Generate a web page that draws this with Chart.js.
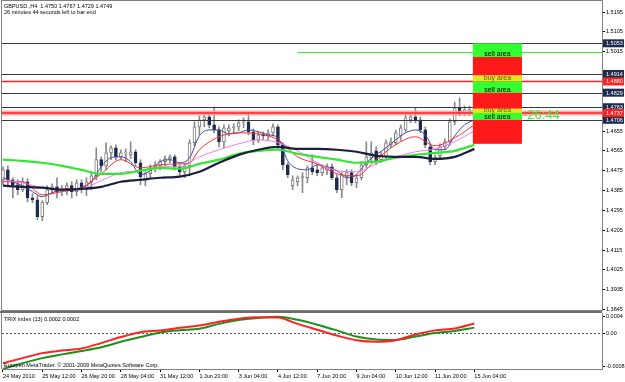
<!DOCTYPE html>
<html>
<head>
<meta charset="utf-8">
<script src="https://cdn.jsdelivr.net/npm/chart.js@4.4.1/dist/chart.umd.min.js"></script>
<style>
    body { margin: 0; background: #fff; width: 625px; height: 382px; overflow: hidden; position: relative; }
    #main { position: absolute; left: 0; top: 0; }
    #trix { position: absolute; left: 0; top: 311px; }
</style>
</head>
<body>
<canvas id="main" width="625" height="311"></canvas>
<canvas id="trix" width="625" height="71"></canvas>
<script>
// GBPUSD H4 candles, 24 May - 15 Jun 2010
const timeLabels = ['24 May 2010', '25 May 12:00', '26 May 20:00', '28 May 04:00', '31 May 12:00', '1 Jun 20:00',
    '3 Jun 04:00', '4 Jun 12:00', '7 Jun 20:00', '9 Jun 04:00', '10 Jun 12:00', '11 Jun 20:00', '15 Jun 04:00'];
const timeLabelBars = [0, 8, 16, 24, 32, 40, 48, 56, 64, 72, 80, 88, 96];

const opens = [1.4434,1.4479,1.4434,1.4411,1.4389,1.4425,1.4352,1.4343,1.4266,1.4330,
    1.4389,1.4402,1.4380,1.4393,1.4407,1.4380,1.4420,1.4389,1.4425,1.4452,
    1.4525,1.4497,1.4556,1.4579,1.4538,1.4556,1.4547,1.4561,1.4511,1.4434,
    1.4461,1.4488,1.4497,1.4516,1.4529,1.4538,1.4493,1.4470,1.4497,1.4602,
    1.4674,1.4706,1.4719,1.4683,1.4660,1.4606,1.4656,1.4670,1.4674,1.4692,
    1.4697,1.4651,1.4615,1.4638,1.4633,1.4647,1.4674,1.4592,1.4502,1.4407,
    1.4425,1.4443,1.4443,1.4488,1.4479,1.4466,1.4479,1.4493,1.4443,1.4389,
    1.4448,1.4466,1.4420,1.4443,1.4502,1.4534,1.4565,1.4525,1.4538,1.4592,
    1.4602,1.4633,1.4660,1.4706,1.4719,1.4706,1.4660,1.4583,1.4516,1.4543,
    1.4583,1.4606,1.4697,1.4760,1.4737,1.4742,1.4750];
const highs = [1.4493,1.4497,1.4443,1.4434,1.4443,1.4439,1.4371,1.4362,1.4339,1.4407,
    1.4416,1.4443,1.4407,1.4420,1.4425,1.4434,1.4434,1.4443,1.4466,1.4579,
    1.4538,1.4602,1.4588,1.4592,1.4570,1.4574,1.4606,1.4570,1.4525,1.4470,
    1.4502,1.4516,1.4525,1.4543,1.4547,1.4547,1.4502,1.4506,1.4615,1.4697,
    1.4724,1.4728,1.4737,1.4765,1.4674,1.4683,1.4683,1.4688,1.4706,1.4715,
    1.4737,1.4665,1.4651,1.4651,1.4660,1.4688,1.4683,1.4602,1.4511,1.4452,
    1.4452,1.4466,1.4497,1.4547,1.4502,1.4502,1.4506,1.4506,1.4457,1.4470,
    1.4479,1.4479,1.4457,1.4516,1.4606,1.4606,1.4583,1.4561,1.4615,1.4624,
    1.4660,1.4683,1.4728,1.4733,1.4760,1.4719,1.4674,1.4597,1.4547,1.4597,
    1.4620,1.4710,1.4787,1.4805,1.4769,1.4769,1.4767];
const lows = [1.4411,1.4402,1.4352,1.4366,1.4380,1.4334,1.4330,1.4253,1.4248,1.4321,
    1.4371,1.4352,1.4362,1.4366,1.4352,1.4362,1.4375,1.4362,1.4389,1.4434,
    1.4470,1.4479,1.4525,1.4525,1.4525,1.4516,1.4529,1.4497,1.4411,1.4407,
    1.4443,1.4470,1.4479,1.4497,1.4511,1.4479,1.4452,1.4443,1.4452,1.4588,
    1.4638,1.4674,1.4670,1.4647,1.4583,1.4579,1.4633,1.4647,1.4656,1.4670,
    1.4638,1.4592,1.4602,1.4615,1.4615,1.4633,1.4570,1.4479,1.4443,1.4389,
    1.4407,1.4375,1.4420,1.4457,1.4452,1.4452,1.4457,1.4434,1.4375,1.4352,
    1.4411,1.4407,1.4398,1.4434,1.4488,1.4516,1.4502,1.4511,1.4525,1.4579,
    1.4592,1.4611,1.4651,1.4692,1.4692,1.4647,1.4579,1.4502,1.4502,1.4529,
    1.4570,1.4592,1.4683,1.4724,1.4724,1.4724,1.4729];
const closes = [1.4479,1.4434,1.4411,1.4389,1.4425,1.4352,1.4343,1.4266,1.4330,1.4389,
    1.4402,1.4380,1.4393,1.4407,1.4380,1.4420,1.4389,1.4425,1.4452,1.4525,
    1.4497,1.4556,1.4579,1.4538,1.4556,1.4561,1.4561,1.4511,1.4448,1.4461,
    1.4488,1.4497,1.4516,1.4529,1.4538,1.4493,1.4470,1.4497,1.4602,1.4674,
    1.4706,1.4719,1.4683,1.4660,1.4606,1.4670,1.4670,1.4674,1.4692,1.4697,
    1.4651,1.4615,1.4638,1.4633,1.4647,1.4674,1.4592,1.4502,1.4457,1.4434,
    1.4443,1.4448,1.4488,1.4470,1.4466,1.4488,1.4493,1.4443,1.4389,1.4457,
    1.4466,1.4420,1.4443,1.4502,1.4538,1.4556,1.4516,1.4547,1.4602,1.4606,
    1.4647,1.4670,1.4715,1.4719,1.4706,1.4660,1.4592,1.4516,1.4534,1.4583,
    1.4606,1.4697,1.4760,1.4737,1.4751,1.4751,1.4749];

const priceTicks = [1.3845, 1.3935, 1.4025, 1.4115, 1.4205, 1.4295, 1.4385, 1.4475, 1.4565, 1.4655, 1.5015, 1.5105, 1.5195];

// moving averages, read at sampled bars
const blueBars = [0,2,4,6,8,10,12,14,16,18,20,22,24,26,28,30,32,34,36,38,40,42,44,46,48,
    50,52,54,56,58,60,62,64,66,68,70,72,74,76,78,80,82,84,86,88,90,92,94,96];
const blueMA = [1.4443,1.4425,1.4407,1.4380,1.4357,1.4375,1.4389,1.4393,1.4398,1.4425,
    1.4493,1.4534,1.4538,1.4516,1.4457,1.4475,1.4516,1.4525,1.4511,1.4534,
    1.4633,1.4660,1.4660,1.4642,1.4647,1.4660,1.4652,1.4638,1.4624,1.4520,
    1.4484,1.4479,1.4502,1.4493,1.4475,1.4443,1.4457,1.4511,1.4547,1.4579,
    1.4615,1.4647,1.4660,1.4638,1.4570,1.4570,1.4633,1.4683,1.4706];
const redBars = [0,4,8,12,16,20,24,28,32,36,38,40,44,48,52,56,60,64,68,72,76,80,84,88,92,96];
const redMA = [1.4425,1.4425,1.4366,1.4380,1.4398,1.4461,1.4525,1.4488,1.4502,1.4506,1.4511,1.4570,1.4629,
    1.4647,1.4642,1.4615,1.4538,1.4506,1.4461,1.4452,1.4525,1.4593,1.4629,1.4588,1.4624,1.4683];
const slowBars = [0,4,8,12,16,20,24,28,32,36,40,44,48,52,56,60,64,68,72,76,80,84,88,92,96];
const violetMA = [1.4434,1.4420,1.4398,1.4389,1.4393,1.4430,1.4466,1.4475,1.4493,1.4493,1.4538,1.4570,1.4597,
    1.4615,1.4602,1.4565,1.4511,1.4475,1.4470,1.4506,1.4538,1.4561,1.4574,1.4607,1.4656];
const greenMA = [1.4525,1.4520,1.4511,1.4497,1.4479,1.4461,1.4461,1.4475,1.4488,1.4484,1.4506,1.4525,1.4552,
    1.4565,1.4570,1.4552,1.4538,1.4525,1.4511,1.4516,1.4534,1.4547,1.4556,1.4565,1.4593];
const blackMA = [1.4407,1.4402,1.4398,1.4389,1.4393,1.4402,1.4425,1.4434,1.4443,1.4448,1.4470,1.4511,1.4547,
    1.4570,1.4583,1.4574,1.4574,1.4570,1.4561,1.4543,1.4538,1.4538,1.4529,1.4538,1.4574];

// TRIX (13) and its signal, same sampled bars
const trixMain = [-0.00071,-0.00059,-0.00047,-0.00041,-0.00036,-0.00023,-0.000086,0.000032,0.000074,0.000135,
    0.00019,0.00028,0.000355,0.00039,0.00038,0.00023,0.00009,-0.00005,-0.00016,-0.000196,
    -0.00016,-0.000025,0.000074,0.00012,0.00024];
const trixSignal = [-0.00085,-0.00071,-0.00059,-0.0005,-0.00042,-0.00033,-0.0002,-0.000086,0.000025,0.000078,
    0.000115,0.00023,0.00032,0.00037,0.0004,0.000326,0.00021,0.000074,-0.000074,-0.000142,
    -0.000154,-0.000074,0.000012,0.00006,0.00014];
const trixTicks = [-0.0008, 0, 0.0004];
const trixTickLabels = ['-0.0008', '0.00', '0.0004'];

// chart objects
const grayLevels = [1.5053, 1.4914, 1.4829, 1.4763, 1.4706];
const redLevels = [1.4880, 1.4737];
const greenLevel = 1.5015;
const greenLevelFromBar = 60;
const zoneTops = [1.5053, 1.4991, 1.4907, 1.4880, 1.4829, 1.4756, 1.4737, 1.4706];
const zoneBottoms = [1.4991, 1.4907, 1.4880, 1.4829, 1.4756, 1.4737, 1.4706, 1.4597];
const zoneKinds = ['sell', 'stop', 'buy', 'sell', 'stop', 'buy', 'sell', 'stop'];

const FONT = '"Liberation Sans", Arial, sans-serif';
const NAVY = '#1c2b4e';
const X_MIN = -0.2;
const X_MAX = 122;
const ZONE_FROM = 95.7;
const ZONE_TO = 105.7;

function pts(bars, values) {
    return bars.map((b, i) => ({ x: b, y: values[i] }));
}

function maLine(bars, values, color, width) {
    return {
        type: 'line',
        data: pts(bars, values),
        borderColor: color,
        borderWidth: width,
        pointRadius: 0,
        cubicInterpolationMode: 'monotone',
        order: 1
    };
}

const isBull = i => closes[i] >= opens[i];

// draws levels, zones, axis price boxes and texts on the price panel
const mainOverlay = {
    id: 'mainOverlay',
    afterDatasetsDraw(chart) {
        const { ctx, chartArea, scales } = chart;
        const x = scales.x, y = scales.y;
        ctx.save();
        ctx.beginPath();
        ctx.rect(chartArea.left, chartArea.top, chartArea.right - chartArea.left, chartArea.bottom - chartArea.top);
        ctx.clip();

        ctx.lineWidth = 1;
        ctx.strokeStyle = '#3a3a3a';
        grayLevels.forEach(p => {
            const py = Math.round(y.getPixelForValue(p)) + 0.5;
            ctx.beginPath();
            ctx.moveTo(chartArea.left, py);
            ctx.lineTo(chartArea.right, py);
            ctx.stroke();
        });

        redLevels.forEach((p, k) => {
            const py = y.getPixelForValue(p);
            if (k === 1) {
                ctx.strokeStyle = 'rgba(255,150,150,0.8)';
                ctx.lineWidth = 5;
                ctx.beginPath();
                ctx.moveTo(chartArea.left, py);
                ctx.lineTo(chartArea.right, py);
                ctx.stroke();
            }
            ctx.strokeStyle = '#ff2020';
            ctx.lineWidth = 1.6;
            ctx.beginPath();
            ctx.moveTo(chartArea.left, py);
            ctx.lineTo(chartArea.right, py);
            ctx.stroke();
        });

        const gy = Math.round(y.getPixelForValue(greenLevel)) + 0.5;
        ctx.strokeStyle = '#33ee33';
        ctx.lineWidth = 1;
        ctx.beginPath();
        ctx.moveTo(x.getPixelForValue(greenLevelFromBar), gy);
        ctx.lineTo(chartArea.right, gy);
        ctx.stroke();

        // sell / buy zones
        const zx0 = x.getPixelForValue(ZONE_FROM);
        const zx1 = x.getPixelForValue(ZONE_TO);
        const colors = { sell: '#33ff33', stop: '#ff1a1a', buy: '#e6e61a' };
        zoneKinds.forEach((kind, k) => {
            const t = y.getPixelForValue(zoneTops[k]);
            const b = y.getPixelForValue(zoneBottoms[k]);
            ctx.fillStyle = colors[kind];
            ctx.fillRect(zx0, t, zx1 - zx0, b - t);
        });
        ctx.font = '7px ' + FONT;
        ctx.textAlign = 'center';
        ctx.textBaseline = 'alphabetic';
        zoneKinds.forEach((kind, k) => {
            if (kind === 'stop') return;
            const b = y.getPixelForValue(zoneBottoms[k]);
            ctx.fillStyle = kind === 'sell' ? '#000' : '#6b5a10';
            ctx.fillText(kind === 'sell' ? 'sell area' : 'buy area', (zx0 + zx1) / 2, b - 1);
        });

        ctx.fillStyle = '#3cf03c';
        ctx.font = '13px ' + FONT;
        ctx.textAlign = 'left';
        ctx.textBaseline = 'middle';
        ctx.fillText('-26:44', zx1 + 1, y.getPixelForValue(1.4725));
        ctx.restore();

        // frame
        ctx.save();
        ctx.strokeStyle = '#808080';
        ctx.lineWidth = 1;
        ctx.strokeRect(chartArea.left - 0.5, chartArea.top - 0.5,
            chartArea.right - chartArea.left + 1, chartArea.bottom - chartArea.top + 1);

        // price boxes on the axis
        ctx.font = '5.5px ' + FONT;
        ctx.textAlign = 'left';
        ctx.textBaseline = 'middle';
        const boxes = grayLevels.map(p => [p, NAVY]).concat(redLevels.map(p => [p, '#ff2020']));
        boxes.forEach(([p, c]) => {
            const py = y.getPixelForValue(p);
            ctx.fillStyle = c;
            ctx.fillRect(chartArea.right + 1, py - 4, 21, 8);
            ctx.fillStyle = '#fff';
            ctx.fillText(p.toFixed(4), chartArea.right + 4, py + 0.5);
        });

        // header
        ctx.fillStyle = '#000';
        ctx.fillText('GBPUSD.,H4  1.4750 1.4767 1.4729 1.4749', 4, 6);
        ctx.fillText('26 minutes 44 seconds left to bar end', 4, 12.5);
        ctx.restore();
    }
};

new Chart(document.getElementById('main'), {
    type: 'bar',
    data: {
        datasets: [
            maLine(slowBars, blackMA, '#1b1f3b', 2.2),
            maLine(slowBars, greenMA, '#2fe82f', 2.2),
            maLine(slowBars, violetMA, '#f07af0', 1),
            maLine(redBars, redMA, '#ff3030', 1),
            maLine(blueBars, blueMA, '#46469c', 1),
            {
                // candle bodies
                data: opens.map((o, i) => ({ x: i, y: [Math.min(o, closes[i]), Math.max(o, closes[i])] })),
                backgroundColor: ctx => isBull(ctx.dataIndex) ? '#ffffff' : NAVY,
                borderColor: ctx => isBull(ctx.dataIndex) ? '#7a7a7a' : NAVY,
                borderWidth: 1,
                borderSkipped: false,
                barThickness: 3,
                minBarLength: 1,
                grouped: false,
                order: 5
            },
            {
                // wicks
                data: highs.map((h, i) => ({ x: i, y: [lows[i], h] })),
                backgroundColor: '#8a8a8a',
                borderWidth: 0,
                barThickness: 1,
                grouped: false,
                order: 6
            }
        ]
    },
    options: {
        responsive: false,
        animation: false,
        devicePixelRatio: 1,
        layout: { padding: { left: 2, right: 0, top: 1, bottom: 1 } },
        plugins: { legend: { display: false }, tooltip: { enabled: false } },
        scales: {
            x: { type: 'linear', min: X_MIN, max: X_MAX, display: false, offset: false },
            y: {
                position: 'right',
                min: 1.3843,
                max: 1.5245,
                grid: { drawOnChartArea: false, tickLength: 3, color: '#000' },
                border: { display: true, color: '#808080' },
                ticks: {
                    font: { family: FONT, size: 5.5 },
                    color: '#000',
                    padding: 1,
                    callback: v => v.toFixed(4)
                },
                afterBuildTicks: s => { s.ticks = priceTicks.map(v => ({ value: v })); },
                afterFit: s => { s.width = 23; s.paddingTop = 0; s.paddingBottom = 0; }
            }
        }
    },
    plugins: [mainOverlay]
});

// TRIX panel
const trixOverlay = {
    id: 'trixOverlay',
    beforeDatasetsDraw(chart) {
        const { ctx, chartArea, scales } = chart;
        const zy = Math.round(scales.y.getPixelForValue(0)) + 0.5;
        ctx.save();
        ctx.strokeStyle = '#555';
        ctx.lineWidth = 1;
        ctx.setLineDash([2, 2]);
        ctx.beginPath();
        ctx.moveTo(chartArea.left, zy);
        ctx.lineTo(chartArea.right, zy);
        ctx.stroke();
        ctx.restore();
    },
    afterDraw(chart) {
        const { ctx, chartArea } = chart;
        ctx.save();
        ctx.fillStyle = '#6e6e6e';
        ctx.fillRect(0, 0, chartArea.right, 2);
        ctx.strokeStyle = '#808080';
        ctx.lineWidth = 1;
        ctx.beginPath();
        ctx.moveTo(chartArea.left - 0.5, chartArea.top);
        ctx.lineTo(chartArea.left - 0.5, chartArea.bottom);
        ctx.stroke();
        ctx.font = '5.5px ' + FONT;
        ctx.fillStyle = '#000';
        ctx.textBaseline = 'middle';
        ctx.fillText('TRIX index (13) 0.0002 0.0002', 4, 8);
        ctx.fillText('Europen MetaTrader. \u00a9 2001-2009 MetaQuotes Software Corp.', 4, 54);
        ctx.restore();
    }
};

new Chart(document.getElementById('trix'), {
    type: 'line',
    data: {
        datasets: [
            { data: pts(slowBars, trixSignal), borderColor: '#1d8f1d', borderWidth: 2, order: 2 },
            { data: pts(slowBars, trixMain), borderColor: '#ff2222', borderWidth: 2, order: 1 }
        ]
    },
    options: {
        responsive: false,
        animation: false,
        devicePixelRatio: 1,
        layout: { padding: { left: 2, right: 0, top: 2, bottom: 0 } },
        elements: { point: { radius: 0 }, line: { cubicInterpolationMode: 'monotone' } },
        plugins: { legend: { display: false }, tooltip: { enabled: false } },
        scales: {
            x: {
                type: 'linear',
                min: X_MIN,
                max: X_MAX,
                offset: false,
                grid: { drawOnChartArea: false, tickLength: 3, color: '#000' },
                border: { display: true, color: '#808080' },
                ticks: {
                    font: { family: FONT, size: 5.5 },
                    color: '#000',
                    padding: 1,
                    maxRotation: 0,
                    autoSkip: false,
                    align: 'start',
                    callback: (v, i) => timeLabels[i]
                },
                afterBuildTicks: s => { s.ticks = timeLabelBars.map(v => ({ value: v })); },
                afterFit: s => { s.height = 13; s.paddingLeft = 0; s.paddingRight = 0; }
            },
            y: {
                position: 'right',
                min: -0.00085,
                max: 0.00049,
                grid: { drawOnChartArea: false, tickLength: 3, color: '#000' },
                border: { display: true, color: '#808080' },
                ticks: {
                    font: { family: FONT, size: 5.5 },
                    color: '#000',
                    padding: 1,
                    callback: (v, i) => trixTickLabels[i]
                },
                afterBuildTicks: s => { s.ticks = trixTicks.map(v => ({ value: v })); },
                afterFit: s => { s.width = 23; s.paddingTop = 0; s.paddingBottom = 0; }
            }
        }
    },
    plugins: [trixOverlay]
});
</script>
</body>
</html>
